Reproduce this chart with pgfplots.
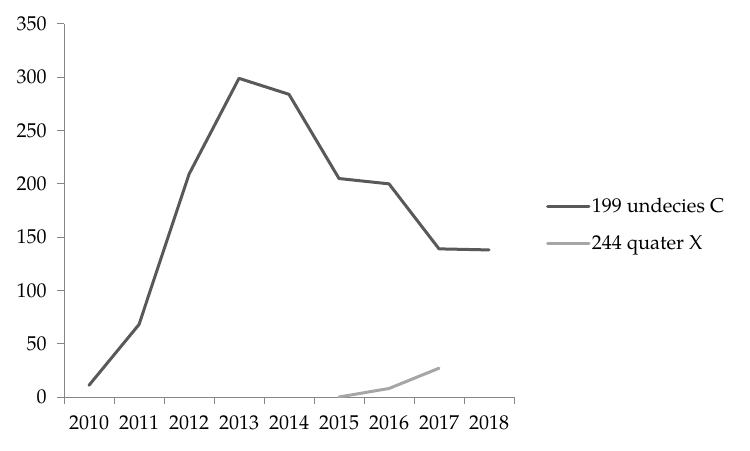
\documentclass[border=0pt]{standalone}
\usepackage{fontspec}
\setmainfont{TeX Gyre Pagella}
\usepackage{pgfplots}
\pgfplotsset{compat=1.18}
\definecolor{ser1}{HTML}{595959}
\definecolor{ser2}{HTML}{A6A6A6}
\definecolor{axgray}{HTML}{868686}
\begin{document}
\begin{tikzpicture}
\path[use as bounding box] (-48pt,-39.75pt) rectangle (514.5pt,297.75pt);
\begin{axis}[
  at={(0,0)}, anchor=south west,
  scale only axis, width=337.5pt, height=279.75pt,
  xmin=0, xmax=9, ymin=0, ymax=350,
  xtick={0,...,9},
  xticklabels={2010,2011,2012,2013,2014,2015,2016,2017,2018},
  x tick label as interval,
  ytick={0,50,...,350},
  axis lines*=left,
  axis line style={axgray, line width=0.75pt},
  tick style={axgray, line width=0.75pt},
  tick align=outside,
  major tick length=5pt,
  font=\fontsize{15}{18}\selectfont,
  x tick label style={yshift=-5.5pt},
  y tick label style={xshift=-4.5pt},
  /pgf/number format/assume math mode=true,
  /pgf/number format/1000 sep={},
  legend style={at={(1.062,0.4625)}, anchor=west, draw=none, fill=none,
    font=\fontsize{15}{18}\selectfont, row sep=13.5pt,
    nodes={inner sep=1pt}},
  legend cell align=left,
  legend image code/.code={\draw[#1] (0pt,0pt) -- (31pt,0pt);},
]
\addplot[ser1, line width=2.25pt, line cap=round, line join=round] coordinates {
  (0.5,11) (1.5,68) (2.5,209) (3.5,299) (4.5,284) (5.5,205) (6.5,200) (7.5,139) (8.5,138)
};
\addlegendentry{199 undecies C}
\addplot[ser2, line width=2.25pt, line cap=round, line join=round] coordinates {
  (5.5,0) (6.5,8) (7.5,27)
};
\addlegendentry{244 quater X}
\end{axis}
\end{tikzpicture}
\end{document}
